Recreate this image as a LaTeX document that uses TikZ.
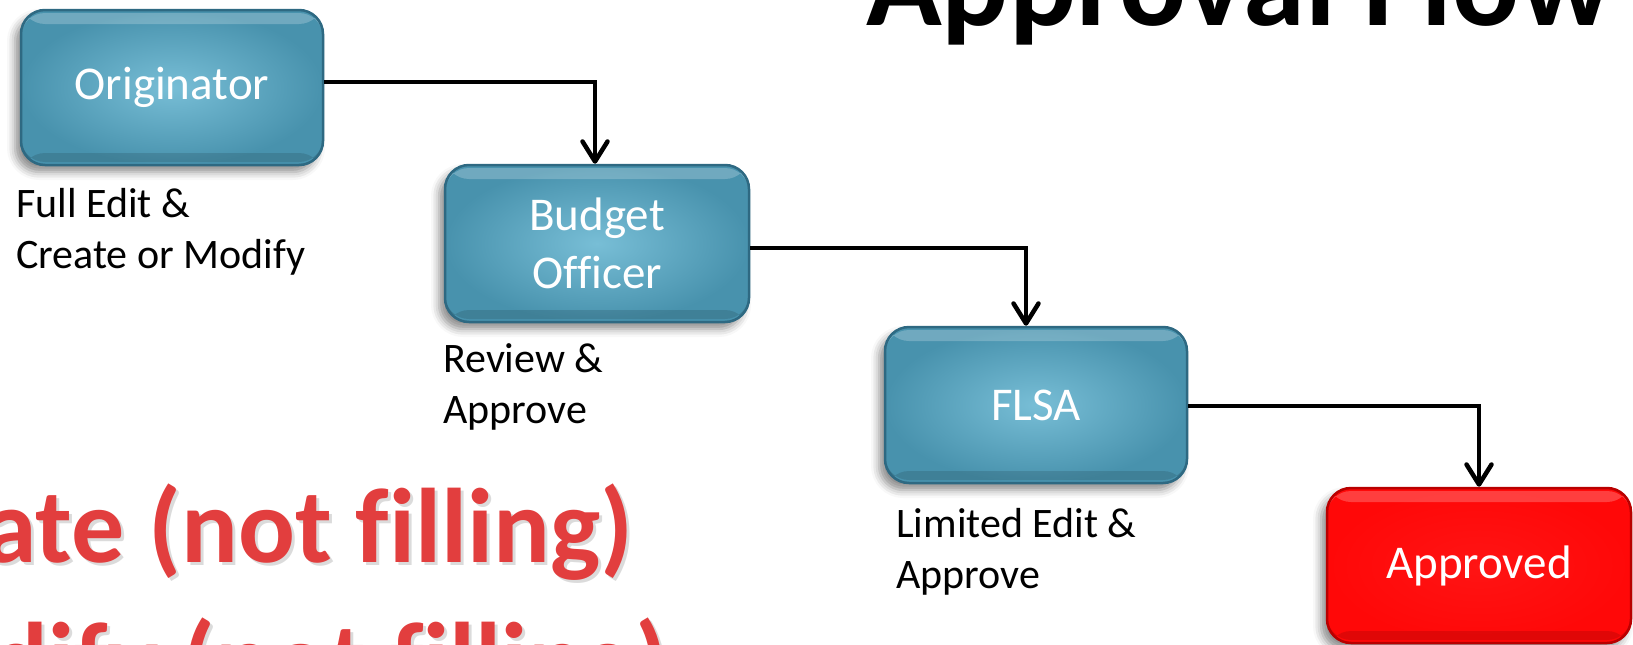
\documentclass[tikz,border=0pt]{standalone}
\usepackage{fontspec}
\setmainfont[Ligatures=NoCommon]{Carlito}
\usetikzlibrary{arrows.meta,shadows.blur}
\definecolor{boxin}{RGB}{120,190,214}
\definecolor{boxout}{RGB}{72,146,173}
\definecolor{boxedge}{RGB}{46,105,130}
\definecolor{appred}{RGB}{255,8,8}
\definecolor{appin}{RGB}{255,20,20}
\definecolor{appedge}{RGB}{185,0,0}
\definecolor{wordred}{RGB}{226,62,62}
\tikzset{
  flowbox/.style={rounded corners=24pt, inner sep=0pt, align=center,
    text=white, font=\fontsize{47}{58}\selectfont, line width=2.5pt,
    blur shadow={shadow xshift=-6pt, shadow yshift=-7pt, shadow blur radius=8pt, shadow opacity=45},
    path picture={
      \fill[white,opacity=0.22] ([yshift=-3pt]path picture bounding box.north west) rectangle ([yshift=-14pt]path picture bounding box.north east);
      \fill[black,opacity=0.12] ([yshift=3pt]path picture bounding box.south west) rectangle ([yshift=12pt]path picture bounding box.south east);
    }},
  bluebox/.style={flowbox, draw=boxedge, inner color=boxin, outer color=boxout},
  redbox/.style={flowbox, draw=appedge, inner color=appin, outer color=appred},
  lbl/.style={anchor=base west, inner sep=0pt, font=\fontsize{42}{51}\selectfont},
  wordart/.style={anchor=base east, inner sep=0pt, text=wordred,
    font=\bfseries\fontsize{106}{127}\selectfont},
  conn/.style={line width=4.5pt, -{Straight Barb[length=20pt,width=25pt,line width=4.5pt,round]}}
}
\begin{document}
\begin{tikzpicture}[x=1pt,y=-1pt]
\useasboundingbox (0,0) rectangle (1633,645);
\clip (0,0) rectangle (1633,645);
% title
\node[anchor=base west, inner sep=0pt, font=\bfseries\fontsize{125}{150}\selectfont] (title) at (866,25) {Approval Flow};
% red word art
\node[wordart, text=black!40, opacity=0.35] (w1s) at (637,565) {Create (not filling)};
\node[wordart] (w1) at (634,562) {Create (not filling)};
\node[wordart, text=black!40, opacity=0.35] (w2s) at (671,699) {Modify (not filling)};
\node[wordart] (w2) at (668,696) {Modify (not filling)};
% boxes
\node[bluebox, minimum width=302pt, minimum height=155pt] (orig) at (172,87.5) {Originator};
\node[bluebox, minimum width=304pt, minimum height=157pt] (bud) at (597,243.5) {Budget\\Officer};
\node[bluebox, minimum width=302pt, minimum height=156pt] (fl) at (1036,405) {FLSA};
\node[redbox, minimum width=304pt, minimum height=155pt] (app) at (1479,565.5) {Approved};
% labels
\node[lbl] (l1a) at (16,217) {Full Edit \&};
\node[lbl] (l1b) at (16,268) {Create or Modify};
\node[lbl] (l2a) at (443,372) {Review \&};
\node[lbl] (l2b) at (443,423) {Approve};
\node[lbl] (l3a) at (896,537) {Limited Edit \&};
\node[lbl] (l3b) at (896,588) {Approve};
% connectors
\draw[conn] ([yshift=5.5pt]orig.east) -| ([xshift=-2pt]bud.north);
\draw[conn] ([yshift=-4.5pt]bud.east) -| ([xshift=-10pt]fl.north);
\draw[conn] ([yshift=-1pt]fl.east) -| (app.north);
\end{tikzpicture}
\end{document}
